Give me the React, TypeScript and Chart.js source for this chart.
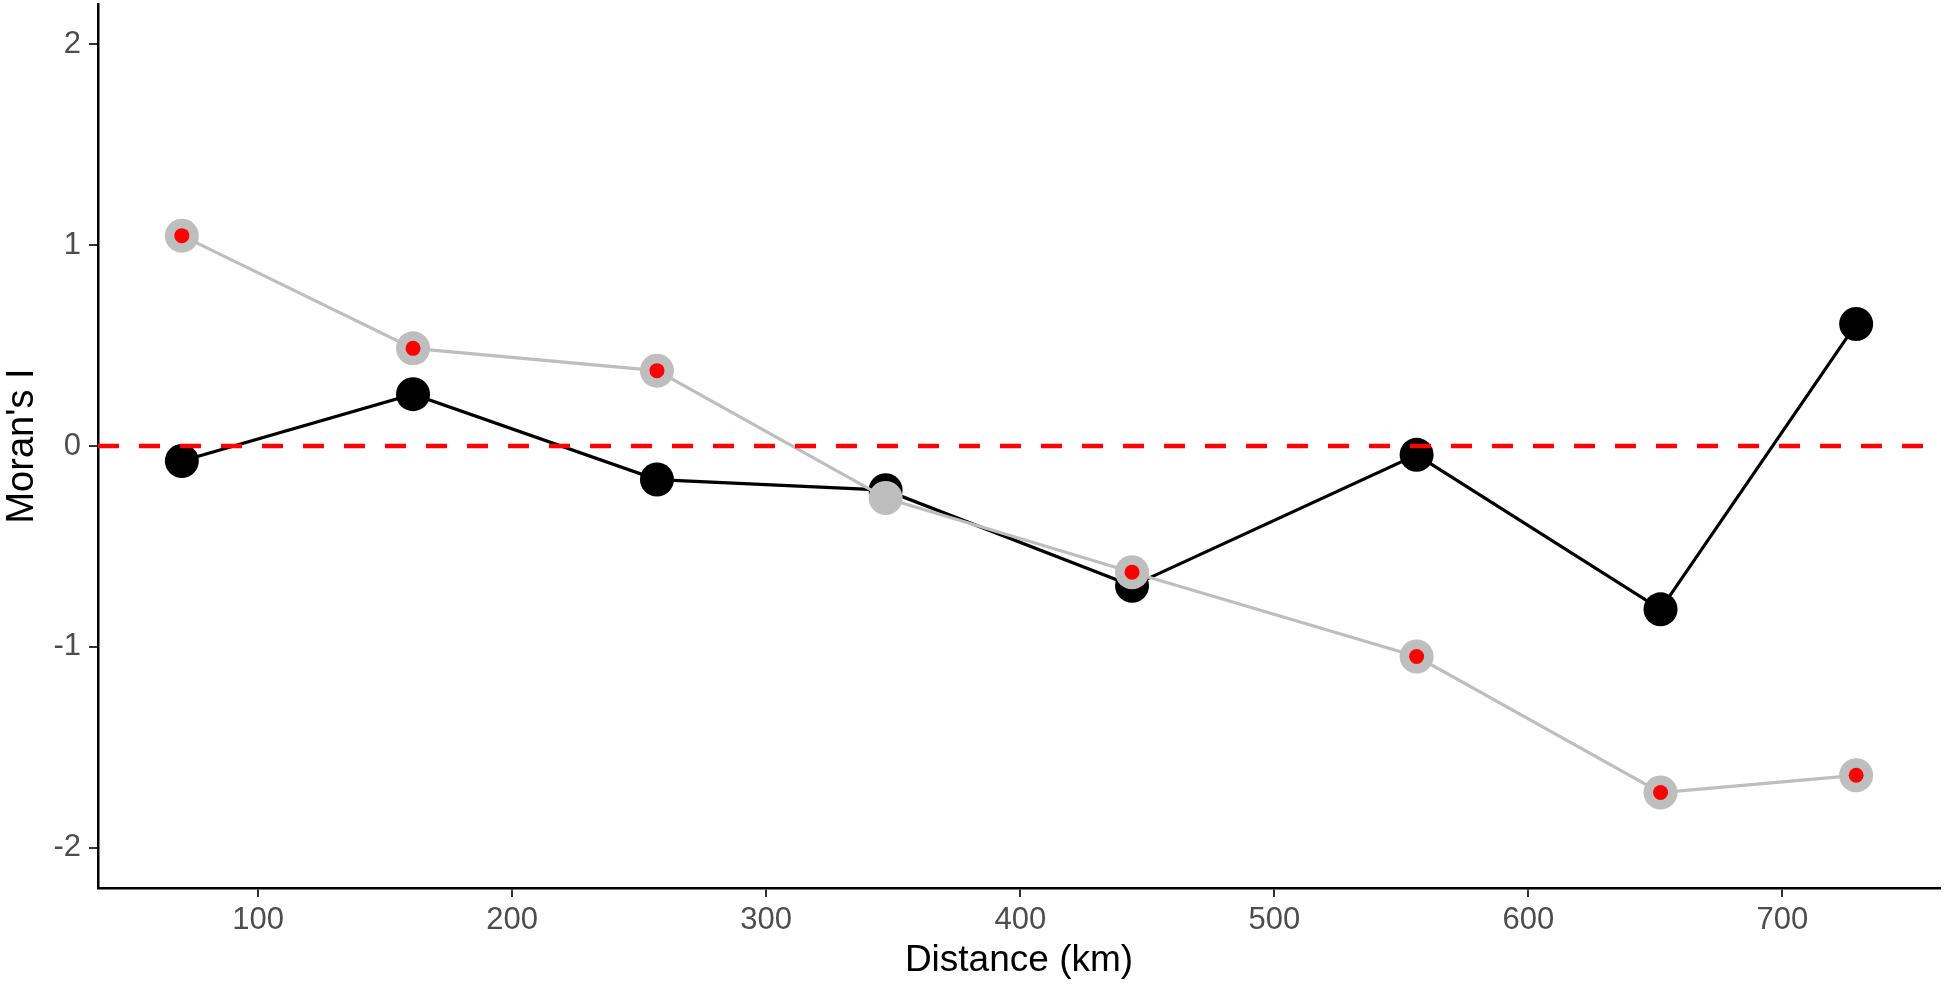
import React, { useEffect, useRef } from "react";
import { Chart, registerables } from "chart.js";

Chart.register(...registerables);

const distanceKm = [70, 161, 257, 347, 444, 556, 652, 729];
const moranBlack = [-0.075, 0.258, -0.167, -0.22, -0.696, -0.044, -0.813, 0.607];
const moranGrey = [1.047, 0.486, 0.375, -0.259, -0.628, -1.048, -1.725, -1.639];
const significant = [true, true, true, false, true, true, true, true];
const xTicks = [100, 200, 300, 400, 500, 600, 700];
const yTicks = [-2, -1, 0, 1, 2];
const referenceLine = 0;

const FONT = "'Liberation Sans', Arial, Helvetica, sans-serif";

const refLinePlugin = {
  id: "refLine",
  afterDatasetsDraw(chart: any) {
    const { ctx, chartArea, scales } = chart;
    const y = scales.y.getPixelForValue(referenceLine);
    ctx.save();
    ctx.strokeStyle = "#ff0000";
    ctx.lineWidth = 4.5;
    ctx.setLineDash([21, 20]);
    ctx.beginPath();
    ctx.moveTo(chartArea.left, y);
    ctx.lineTo(chartArea.right, y);
    ctx.stroke();
    ctx.restore();
  },
};

export default function App() {
  const ref = useRef<HTMLCanvasElement | null>(null);

  useEffect(() => {
    if (!ref.current) return;
    const pts = (vals: number[]) => distanceKm.map((x, i) => ({ x, y: vals[i] }));
    const redPts = distanceKm.map((x, i) => ({ x, y: significant[i] ? moranGrey[i] : null }));

    const chart = new Chart(ref.current, {
      type: "line",
      data: {
        datasets: [
          {
            label: "sig",
            data: redPts as any,
            showLine: false,
            pointRadius: 7.5,
            pointBorderWidth: 0,
            pointBackgroundColor: "#ff0000",
            borderColor: "#ff0000",
            order: 1,
          },
          {
            label: "grey",
            data: pts(moranGrey),
            borderColor: "#bebebe",
            borderWidth: 3.2,
            pointRadius: 17,
            pointBorderWidth: 0,
            pointBackgroundColor: "#bebebe",
            order: 2,
          },
          {
            label: "black",
            data: pts(moranBlack),
            borderColor: "#000000",
            borderWidth: 3.2,
            pointRadius: 17,
            pointBorderWidth: 0,
            pointBackgroundColor: "#000000",
            order: 3,
          },
        ],
      },
      options: {
        responsive: false,
        animation: false,
        layout: { autoPadding: false, padding: { top: 4, right: 4, left: 0, bottom: 0 } },
        plugins: {
          legend: { display: false },
          tooltip: { enabled: false },
        },
        scales: {
          x: {
            type: "linear",
            min: 37,
            max: 762,
            afterBuildTicks: (s: any) => {
              s.ticks = xTicks.map((v) => ({ value: v }));
            },
            afterFit: (s: any) => {
              s.height = 97;
              s.paddingLeft = 0;
              s.paddingRight = 0;
            },
            border: { display: true, color: "#000000", width: 2.5 },
            grid: {
              display: true,
              drawOnChartArea: false,
              drawTicks: true,
              tickLength: 9,
              color: "#333333",
              lineWidth: 2,
            },
            ticks: {
              font: { family: FONT, size: 31 },
              color: "#4d4d4d",
              padding: 5,
              maxRotation: 0,
            },
            title: {
              display: true,
              text: "Distance (km)",
              font: { family: FONT, size: 37, lineHeight: 1 },
              color: "#000000",
              padding: { top: 0, bottom: 6 },
            },
          },
          y: {
            type: "linear",
            min: -2.2,
            max: 2.2,
            afterBuildTicks: (s: any) => {
              s.ticks = yTicks.map((v) => ({ value: v }));
            },
            afterFit: (s: any) => {
              s.width = 98;
              s.paddingTop = 0;
              s.paddingBottom = 0;
            },
            border: { display: true, color: "#000000", width: 2.5 },
            grid: {
              display: true,
              drawOnChartArea: false,
              drawTicks: true,
              tickLength: 9,
              color: "#333333",
              lineWidth: 2,
            },
            ticks: {
              font: { family: FONT, size: 31 },
              color: "#4d4d4d",
              padding: 8,
            },
            title: {
              display: true,
              text: "Moran's I",
              font: { family: FONT, size: 38, lineHeight: 1 },
              color: "#000000",
              padding: { top: 4, bottom: 0 },
            },
          },
        },
      },
      plugins: [refLinePlugin],
    });
    return () => chart.destroy();
  }, []);

  return (
    <div style={{ position: "fixed", left: 0, top: 0, width: 1944, height: 985, background: "#ffffff" }}>
      <canvas ref={ref} width={1944} height={985} style={{ width: 1944, height: 985, display: "block" }} />
    </div>
  );
}
